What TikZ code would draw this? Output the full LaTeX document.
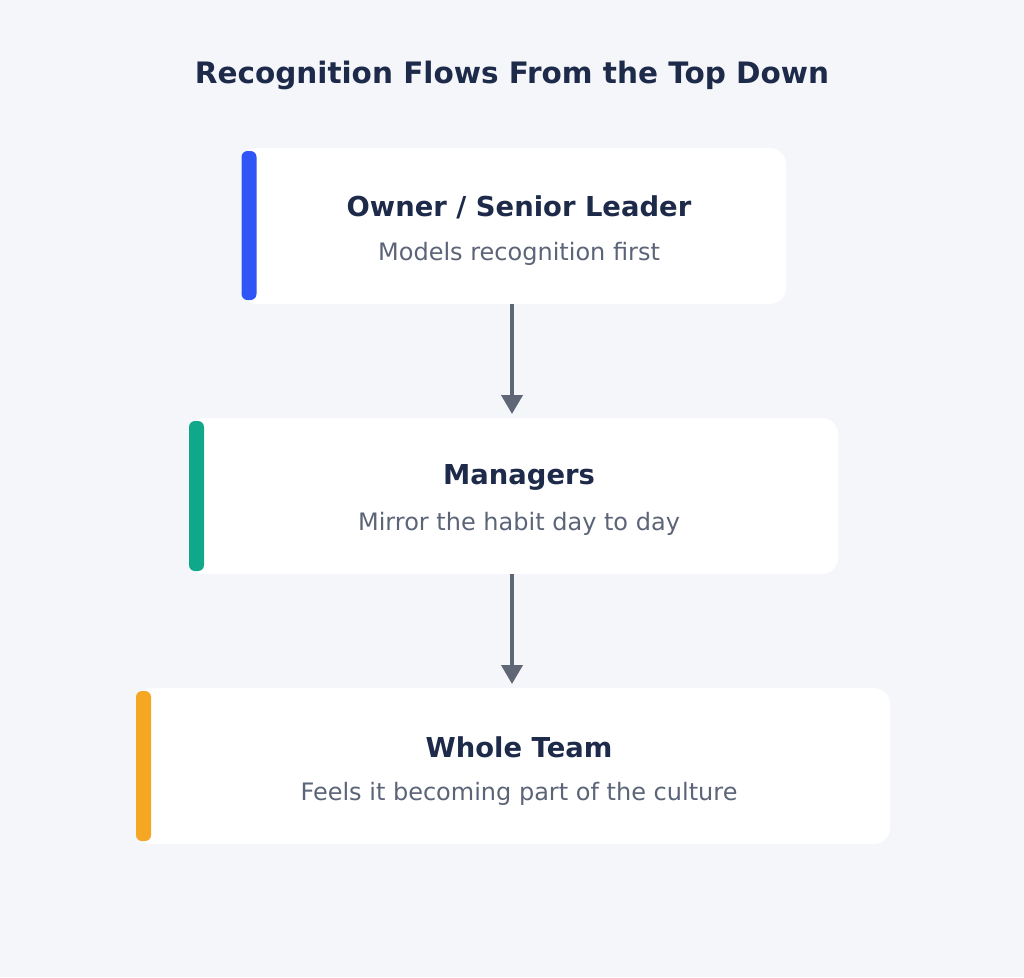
\documentclass[tikz,border=0pt]{standalone}
\usepackage{fontspec}
\setmainfont{DejaVu Sans}
\usetikzlibrary{arrows.meta}
\definecolor{bg}{HTML}{F4F6FA}
\definecolor{ink}{HTML}{1E2A4A}
\definecolor{sub}{HTML}{5C6478}
\definecolor{arr}{HTML}{5F6676}
\definecolor{cblue}{HTML}{2F55F7}
\definecolor{cgreen}{HTML}{0FA88B}
\definecolor{corange}{HTML}{F5A623}
\tikzset{
  card/.style={fill=white, rounded corners=16pt},
  accent/.style={rounded corners=6pt},
  ttl/.style={font=\fontsize{27.4}{31}\selectfont\bfseries, text=ink, inner sep=0pt},
  subt/.style={font=\fontsize{24}{28}\selectfont, text=sub, inner sep=0pt},
  flow/.style={draw=arr, line width=4pt, -{Triangle[length=19pt,width=21pt]}},
}
\begin{document}
\begin{tikzpicture}[x=1pt,y=-1pt]
\useasboundingbox (0,0) rectangle (1024,977);
\fill[bg] (0,0) rectangle (1024,977);
\node[font=\fontsize{29.5}{34}\selectfont\bfseries, text=ink, inner sep=0pt] (title) at (512,75) {Recognition Flows From the Top Down};
% box 1
\fill[card] (241,148) rectangle (786,304);
\fill[cblue, accent] (241.5,151) rectangle (256.5,300);
\coordinate (b1bot) at (512,304);
\node[ttl] (t1) at (519,207) {Owner / Senior Leader};
\node[subt] (s1) at (519,253.5) {Models recognition first};
% box 2
\fill[card] (188,418) rectangle (838,574);
\fill[cgreen, accent] (189,421) rectangle (204,571);
\coordinate (b2bot) at (512,574);
\node[ttl] (t2) at (519,477) {Managers};
\node[subt] (s2) at (519,523.5) {Mirror the habit day to day};
% box 3
\fill[card] (136,688) rectangle (890,844);
\fill[corange, accent] (136,691) rectangle (151,841);
\node[ttl] (t3) at (519,747) {Whole Team};
\node[subt] (s3) at (519,793.5) {Feels it becoming part of the culture};
% arrows
\coordinate (a1e) at (512,414);
\coordinate (a2e) at (512,684);
\draw[flow] (b1bot) -- (a1e);
\draw[flow] (b2bot) -- (a2e);
\end{tikzpicture}
\end{document}
